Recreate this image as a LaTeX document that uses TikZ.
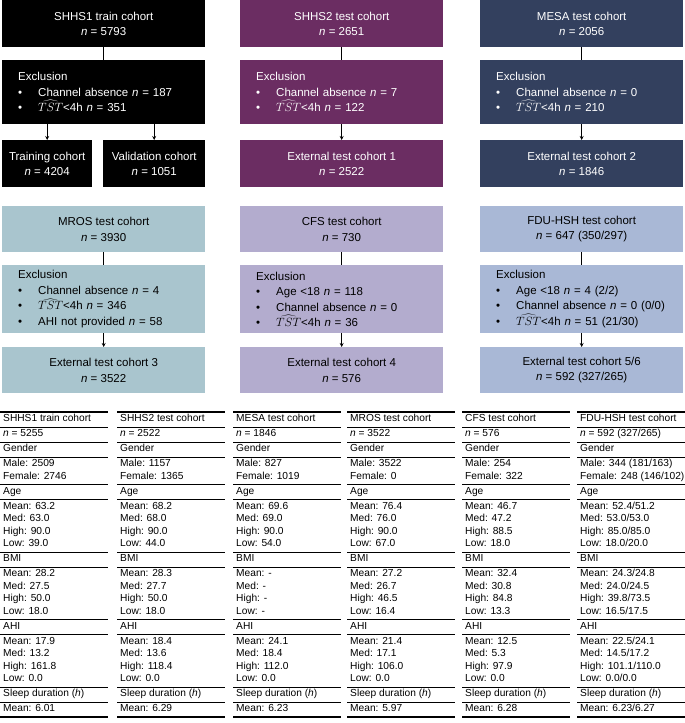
\documentclass[tikz,border=0pt]{standalone}
\usepackage{fontspec}
\setmainfont{Liberation Sans}
\usetikzlibrary{arrows.meta}
\definecolor{shhsone}{HTML}{000000}
\definecolor{shhstwo}{HTML}{6B2D62}
\definecolor{mesacol}{HTML}{33405E}
\definecolor{moscol}{HTML}{A9C5CE}
\definecolor{cfscol}{HTML}{B3ACCE}
\definecolor{fducol}{HTML}{A9B8D6}
\newcommand{\nn}{\textit{n}}
\newcommand{\tst}{$\widehat{TST}$}
\newcommand{\bul}[1]{\makebox[20pt][l]{\textbullet}#1}
% one column of the table: x, then 12 blocks
\newcommand{\tabcol}[9]{%
  \foreach \yt/\yb in {412/427,427/442,442/457,457/484.5,484.5/499.5,499.5/552,552/567,567/619.5,619.5/634.5,634.5/687,687/702}
    {\draw[rule] (#1,\yb) -- ++(108,0);}
  \draw[thickrule] (#1,412) -- ++(108,0);
  \draw[thickrule] (#1,717) -- ++(108,0);
  \node[cell] at (#1,412) {#2};
  \node[cell] at (#1,427) {\nn{} = #3};
  \node[cell] at (#1,442) {Gender};
  \node[cell] at (#1,457) {#4};
  \node[cell] at (#1,484.5) {Age};
  \node[cell] at (#1,499.5) {#5};
  \node[cell] at (#1,552) {BMI};
  \node[cell] at (#1,567) {#6};
  \node[cell] at (#1,619.5) {AHI};
  \node[cell] at (#1,634.5) {#7};
  \node[cell] at (#1,687) {Sleep duration (\textit{h})};
  \node[cell] at (#1,702) {Mean: #8};
}
\begin{document}
\begin{tikzpicture}[x=1pt,y=-1pt,
    box/.style={anchor=north west, minimum width=203pt, inner sep=0pt,
      align=center, font=\fontsize{11.5}{15.5}\selectfont},
    exbox/.style={box, align=left, text width=171pt, inner xsep=16pt},
    light/.style={text=black},
    dark/.style={text=white},
    link/.style={line width=1.5pt},
    arr/.style={line width=1pt, -{Stealth[length=4pt,width=4pt]}},
    cell/.style={anchor=north west, inner xsep=3pt, inner ysep=2.4pt, align=left,
      font=\fontsize{10.2}{12.5}\selectfont},
    rule/.style={line width=0.6pt},
    thickrule/.style={line width=1.1pt}]
  \useasboundingbox (0,0) rectangle (685,723);

  % first row of cohorts
  \node[box, dark, fill=shhsone, minimum height=47pt] (s1) at (2,0) {SHHS1 train cohort\\\nn{} = 5793};
  \node[exbox, dark, fill=shhsone, minimum height=64pt] (s1ex) at (2,60) {Exclusion\\\bul{Channel absence \nn{} = 187}\\\bul{\tst<4h \nn{} = 351}};
  \node[box, dark, fill=shhsone, minimum width=90pt, minimum height=47pt] (s1tr) at (2,140) {Training cohort\\\nn{} = 4204};
  \node[box, dark, fill=shhsone, minimum width=102pt, minimum height=47pt] (s1va) at (103,140) {Validation cohort\\\nn{} = 1051};

  \node[box, dark, fill=shhstwo, minimum height=47pt] (s2) at (240,0) {SHHS2 test cohort\\\nn{} = 2651};
  \node[exbox, dark, fill=shhstwo, minimum height=64pt] (s2ex) at (240,60) {Exclusion\\\bul{Channel absence \nn{} = 7}\\\bul{\tst<4h \nn{} = 122}};
  \node[box, dark, fill=shhstwo, minimum height=47pt] (s2ext) at (240,140) {External test cohort 1\\\nn{} = 2522};

  \node[box, dark, fill=mesacol, minimum height=47pt] (me) at (480,0) {MESA test cohort\\\nn{} = 2056};
  \node[exbox, dark, fill=mesacol, minimum height=64pt] (meex) at (480,60) {Exclusion\\\bul{Channel absence \nn{} = 0}\\\bul{\tst<4h \nn{} = 210}};
  \node[box, dark, fill=mesacol, minimum height=47pt] (meext) at (480,140) {External test cohort 2\\\nn{} = 1846};

  % second row of cohorts
  \node[box, light, fill=moscol, minimum height=46pt] (mr) at (2,206) {MROS test cohort\\\nn{} = 3930};
  \node[exbox, light, fill=moscol, minimum height=68pt] (mrex) at (2,265) {Exclusion\\\bul{Channel absence \nn{} = 4}\\\bul{\tst<4h \nn{} = 346}\\\bul{AHI not provided \nn{} = 58}};
  \node[box, light, fill=moscol, minimum height=46pt] (mrext) at (2,347) {External test cohort 3\\\nn{} = 3522};

  \node[box, light, fill=cfscol, minimum height=46pt] (cf) at (240,206) {CFS test cohort\\\nn{} = 730};
  \node[exbox, light, fill=cfscol, minimum height=68pt] (cfex) at (240,265) {Exclusion\\\bul{Age <18 \nn{} = 118}\\\bul{Channel absence \nn{} = 0}\\\bul{\tst<4h \nn{} = 36}};
  \node[box, light, fill=cfscol, minimum height=46pt] (cfext) at (240,347) {External test cohort 4\\\nn{} = 576};

  \node[box, light, fill=fducol, minimum height=46pt] (fd) at (480,206) {FDU-HSH test cohort\\\nn{} = 647 (350/297)};
  \node[exbox, light, fill=fducol, minimum height=68pt] (fdex) at (480,265) {Exclusion\\\bul{Age <18 \nn{} = 4 (2/2)}\\\bul{Channel absence \nn{} = 0 (0/0)}\\\bul{\tst<4h \nn{} = 51 (21/30)}};
  \node[box, light, fill=fducol, minimum height=46pt] (fdext) at (480,347) {External test cohort 5/6\\\nn{} = 592 (327/265)};

  % connectors
  \foreach \a/\b in {s1/s1ex,s2/s2ex,me/meex,mr/mrex,cf/cfex,fd/fdex}
    \draw[link] (\a.south) -- (\b.north);
  \foreach \a/\b in {s1ex/s1tr,s1ex/s1va,s2ex/s2ext,meex/meext,mrex/mrext,cfex/cfext,fdex/fdext}
    \draw[arr] (\a.south -| \b.north) -- (\b.north);

  % table
  \tabcol{0}{SHHS1 train cohort}{5255}{Male: 2509\\Female: 2746}{Mean: 63.2\\Med: 63.0\\High: 90.0\\Low: 39.0}{Mean: 28.2\\Med: 27.5\\High: 50.0\\Low: 18.0}{Mean: 17.9\\Med: 13.2\\High: 161.8\\Low: 0.0}{6.01}{}
  \tabcol{117}{SHHS2 test cohort}{2522}{Male: 1157\\Female: 1365}{Mean: 68.2\\Med: 68.0\\High: 90.0\\Low: 44.0}{Mean: 28.3\\Med: 27.7\\High: 50.0\\Low: 18.0}{Mean: 18.4\\Med: 13.6\\High: 118.4\\Low: 0.0}{6.29}{}
  \tabcol{233}{MESA test cohort}{1846}{Male: 827\\Female: 1019}{Mean: 69.6\\Med: 69.0\\High: 90.0\\Low: 54.0}{Mean: -\\Med: -\\High: -\\Low: -}{Mean: 24.1\\Med: 18.4\\High: 112.0\\Low: 0.0}{6.23}{}
  \tabcol{347}{MROS test cohort}{3522}{Male: 3522\\Female: 0}{Mean: 76.4\\Med: 76.0\\High: 90.0\\Low: 67.0}{Mean: 27.2\\Med: 26.7\\High: 46.5\\Low: 16.4}{Mean: 21.4\\Med: 17.1\\High: 106.0\\Low: 0.0}{5.97}{}
  \tabcol{462}{CFS test cohort}{576}{Male: 254\\Female: 322}{Mean: 46.7\\Med: 47.2\\High: 88.5\\Low: 18.0}{Mean: 32.4\\Med: 30.8\\High: 84.8\\Low: 13.3}{Mean: 12.5\\Med: 5.3\\High: 97.9\\Low: 0.0}{6.28}{}
  \tabcol{577}{FDU-HSH test cohort}{592 (327/265)}{Male: 344 (181/163)\\Female: 248 (146/102)}{Mean: 52.4/51.2\\Med: 53.0/53.0\\High: 85.0/85.0\\Low: 18.0/20.0}{Mean: 24.3/24.8\\Med: 24.0/24.5\\High: 39.8/73.5\\Low: 16.5/17.5}{Mean: 22.5/24.1\\Med: 14.5/17.2\\High: 101.1/110.0\\Low: 0.0/0.0}{6.23/6.27}{}
\end{tikzpicture}
\end{document}
